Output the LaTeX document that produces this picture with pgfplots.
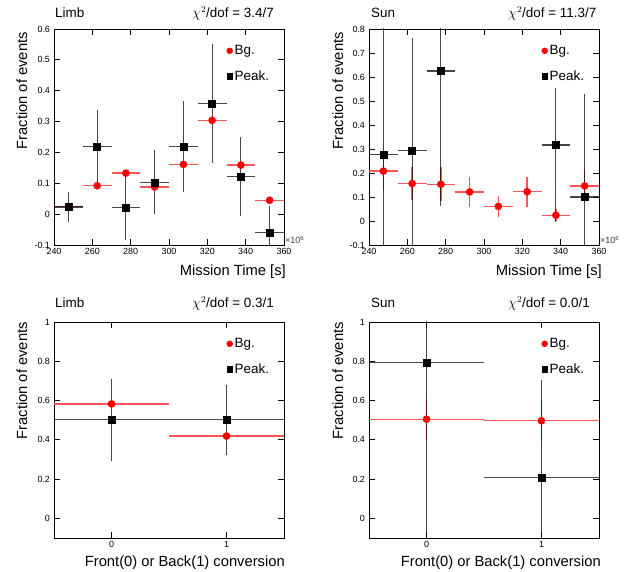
\documentclass[border=0pt]{standalone}
\usepackage{fontspec}
\setmainfont{Liberation Sans}
\usepackage{pgfplots}
\pgfplotsset{compat=1.18}
\definecolor{bgline}{RGB}{255,85,85}
\pgfplotsset{
 rootaxis/.style={
  scale only axis, width=230bp, height=216bp, anchor=south west,
  axis line style={line width=0.9bp},
  tick align=inside, xtick pos=both, ytick pos=both,
  major tick length=6bp, every tick/.style={black, line width=0.8bp},
  minor tick num=0,
  tick label style={font=\fontsize{9}{10}\selectfont},
  yticklabel style={xshift=-0.5bp},
  /pgf/number format/assume math mode=true,
  legend style={draw=none, fill=none, at={(rel axis cs:0.75,0.934)}, anchor=north west,
    font=\fontsize{13.5}{15}\selectfont, row sep=10.5bp, inner sep=0pt,
    /tikz/every even column/.append style={column sep=5bp}},
  legend cell align=left,
  legend image code/.code={\draw[##1] plot coordinates {(0bp,0bp)};},
 },
 bgplot/.style={only marks, mark=*, mark size=3.6bp, color=red,
   mark options={fill=red, draw=red, solid},
   error bars/x dir=both, error bars/y dir=both, error bars/x explicit, error bars/y explicit,
   error bars/error mark=none,
   error bars/error bar style={line width=1.3bp, color=bgline}},
 pkplot/.style={only marks, mark=square*, mark size=3.5bp, color=black,
   mark options={fill=black, draw=black, solid},
   error bars/x dir=both, error bars/y dir=both, error bars/x explicit, error bars/y explicit,
   error bars/error mark=none,
   error bars/error bar style={line width=1.2bp, color=black, opacity=0.72}},
}
\newcommand{\legendentries}{%
  \addlegendimage{only marks, mark=*, mark size=3bp, red}
  \addlegendentry{Bg.}
  \addlegendimage{only marks, mark=square*, mark size=2.6bp, black}
  \addlegendentry{Peak.}
}
\begin{document}
\begin{tikzpicture}
\useasboundingbox (0,0) rectangle (636bp,572bp);

% ---------------- Top left: Limb vs time
\begin{axis}[rootaxis, at={(54bp,327bp)},
  xmin=240, xmax=360, ymin=-0.1, ymax=0.6,
  xtick={240,260,280,300,320,340,360},
  xticklabels={240,260,280,300,320,340,360},
  ytick={-0.1,0,0.1,0.2,0.3,0.4,0.5,0.6},
  yticklabels={-0.1,0,0.1,0.2,0.3,0.4,0.5,0.6}]
\addplot[forget plot, bgplot] coordinates {
 (247.5,0.025) +- (7.5,0)
 (262.5,0.092) +- (7.5,0)
 (277.5,0.133) +- (7.5,0)
 (292.5,0.088) +- (7.5,0)
 (307.5,0.161) +- (7.5,0)
 (322.5,0.304) +- (7.5,0)
 (337.5,0.159) +- (7.5,0)
 (352.5,0.045) +- (7.5,0)
};
\addplot[forget plot, pkplot] coordinates {
 (247.5,0.023) += (7.5,0.048) -= (7.5,0.048)
 (262.5,0.220) += (7.5,0.119) -= (7.5,0.120)
 (277.5,0.021) += (7.5,0.115) -= (7.5,0.105)
 (292.5,0.102) += (7.5,0.105) -= (7.5,0.102)
 (307.5,0.220) += (7.5,0.147) -= (7.5,0.149)
 (322.5,0.358) += (7.5,0.193) -= (7.5,0.193)
 (337.5,0.122) += (7.5,0.127) -= (7.5,0.129)
 (352.5,-0.059) += (7.5,0.084) -= (7.5,0.084)
};
\legendentries
\end{axis}

% ---------------- Top right: Sun vs time
\begin{axis}[rootaxis, at={(369bp,327bp)},
  xmin=240, xmax=360, ymin=-0.1, ymax=0.8,
  xtick={240,260,280,300,320,340,360},
  xticklabels={240,260,280,300,320,340,360},
  ytick={-0.1,0,0.1,0.2,0.3,0.4,0.5,0.6,0.7,0.8},
  yticklabels={-0.1,0,0.1,0.2,0.3,0.4,0.5,0.6,0.7,0.8}]
\addplot[forget plot, bgplot] coordinates {
 (247.5,0.208) +- (7.5,0.080)
 (262.5,0.156) +- (7.5,0.068)
 (277.5,0.153) +- (7.5,0.070)
 (292.5,0.121) +- (7.5,0.062)
 (307.5,0.061) +- (7.5,0.045)
 (322.5,0.122) +- (7.5,0.063)
 (337.5,0.024) +- (7.5,0.025)
 (352.5,0.146) +- (7.5,0.066)
};
\addplot[forget plot, pkplot] coordinates {
 (247.5,0.278) += (7.5,1.0) -= (7.5,1.0)
 (262.5,0.294) += (7.5,0.470) -= (7.5,1.0)
 (277.5,0.625) += (7.5,1.0) -= (7.5,0.562)
 (337.5,0.317) += (7.5,0.239) -= (7.5,0.321)
 (352.5,0.100) += (7.5,0.428) -= (7.5,1.0)
};
\legendentries
\end{axis}

% ---------------- Bottom left: Limb front/back
\begin{axis}[rootaxis, at={(54bp,34bp)},
  xmin=-0.5, xmax=1.5, ymin=-0.1, ymax=1,
  xtick={0,1}, xticklabels={0,1},
  ytick={0,0.2,0.4,0.6,0.8,1},
  yticklabels={0,0.2,0.4,0.6,0.8,1}]
\addplot[forget plot, bgplot] coordinates {
 (0,0.583) +- (0.5,0)
 (1,0.419) +- (0.5,0)
};
\addplot[forget plot, pkplot] coordinates {
 (0,0.502) += (0.5,0.210) -= (0.5,0.209)
 (1,0.502) += (0.5,0.179) -= (0.5,0.180)
};
\legendentries
\end{axis}

% ---------------- Bottom right: Sun front/back
\begin{axis}[rootaxis, at={(369bp,34bp)},
  xmin=-0.5, xmax=1.5, ymin=-0.1, ymax=1,
  xtick={0,1}, xticklabels={0,1},
  ytick={0,0.2,0.4,0.6,0.8,1},
  yticklabels={0,0.2,0.4,0.6,0.8,1}]
\addplot[forget plot, bgplot] coordinates {
 (0,0.505) +- (0.5,0.105)
 (1,0.497) +- (0.5,0.105)
};
\addplot[forget plot, pkplot] coordinates {
 (0,0.795) += (0.5,1.0) -= (0.5,1.0)
 (1,0.208) += (0.5,0.495) -= (0.5,1.0)
};
\legendentries
\end{axis}

% ---------------- Texts
\begin{scope}[every node/.style={inner sep=0pt, font=\fontsize{13.5}{15}\selectfont}]
\node[anchor=base west] at (55bp,554bp) {Limb};
\node[anchor=base west] at (192bp,554bp) {$\chi^{2}$/dof = 3.4/7};
\node[anchor=base west] at (371bp,554bp) {Sun};
\node[anchor=base west] at (508bp,554bp) {$\chi^{2}$/dof = 11.3/7};
\node[anchor=base west] at (55bp,264bp) {Limb};
\node[anchor=base west] at (192bp,264bp) {$\chi^{2}$/dof = 0.3/1};
\node[anchor=base west] at (371bp,264bp) {Sun};
\node[anchor=base west] at (508bp,264bp) {$\chi^{2}$/dof = 0.0/1};
\end{scope}
\begin{scope}[every node/.style={inner sep=0pt, font=\fontsize{14.8}{16}\selectfont}]
\node[anchor=base east] at (286bp,296bp) {Mission Time [s]};
\node[anchor=base east] at (602bp,296bp) {Mission Time [s]};
\node[anchor=base east] at (285bp,6bp) {Front(0) or Back(1) conversion};
\node[anchor=base east] at (601bp,6bp) {Front(0) or Back(1) conversion};
\node[rotate=90, anchor=base east] at (27bp,540bp) {Fraction of events};
\node[rotate=90, anchor=base east] at (343bp,540bp) {Fraction of events};
\node[rotate=90, anchor=base east] at (27bp,250bp) {Fraction of events};
\node[rotate=90, anchor=base east] at (343bp,250bp) {Fraction of events};
\end{scope}
\begin{scope}[every node/.style={inner sep=0pt, font=\fontsize{9}{10}\selectfont, text=black!75}]
\node[anchor=base west] at (285bp,328bp) {×10\textsuperscript{6}};
\node[anchor=base west] at (600bp,328bp) {×10\textsuperscript{6}};
\end{scope}
\end{tikzpicture}
\end{document}
